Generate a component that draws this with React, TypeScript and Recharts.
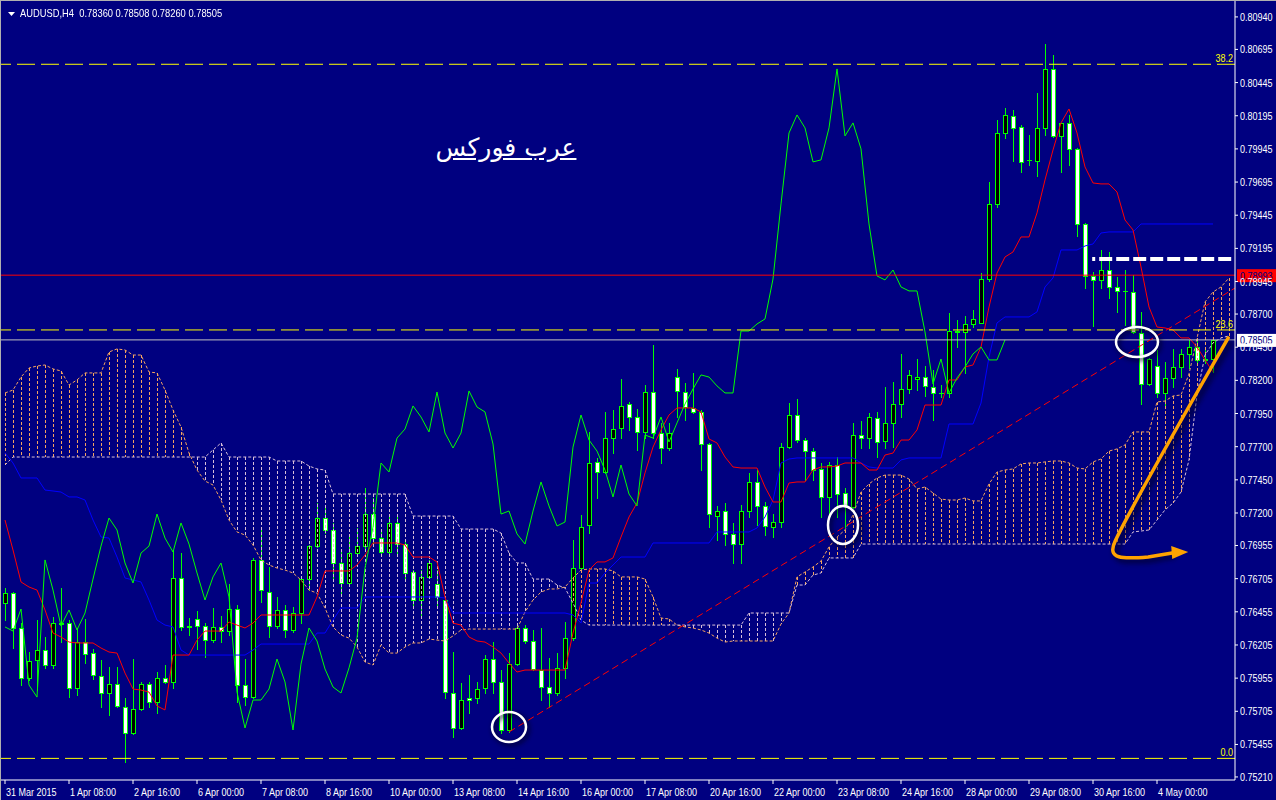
import React from "react";
import { ComposedChart, Bar, Line, XAxis, YAxis, ReferenceLine, ReferenceDot } from "recharts";

// AUDUSD H4 candles, bar 0 = 31 Mar 2015 00:00
const OPEN = [
  0.76521, 0.76596, 0.76333, 0.75956, 0.76092, 0.76167, 0.76054, 0.76362, 0.7637, 0.75881,
  0.76227, 0.76144, 0.75971, 0.75843, 0.75911, 0.75737, 0.75541, 0.75722, 0.75911, 0.75775,
  0.75956, 0.75926, 0.7671, 0.76348, 0.76401, 0.76348, 0.76242, 0.76341, 0.7631, 0.76476,
  0.75903, 0.75812, 0.76846, 0.76604, 0.76348, 0.76469, 0.76318, 0.76446, 0.76702, 0.76951,
  0.77162, 0.77072, 0.76823, 0.76672, 0.76898, 0.76951, 0.77192, 0.77011, 0.76906, 0.77125,
  0.76966, 0.76755, 0.76544, 0.76718, 0.76665, 0.76544, 0.75843, 0.75579, 0.75805, 0.75805,
  0.75881, 0.76099, 0.75926, 0.75564, 0.76061, 0.76333, 0.76235, 0.76016, 0.75888, 0.75843,
  0.76032, 0.76257, 0.76785, 0.7711, 0.77585, 0.77509, 0.77765, 0.77841, 0.78022, 0.77924,
  0.77811, 0.78112, 0.77803, 0.7769, 0.78225, 0.78112, 0.77992, 0.77962, 0.7772, 0.77177,
  0.77215, 0.77042, 0.76966, 0.77215, 0.77434, 0.77253, 0.77094, 0.77132, 0.77697, 0.77939,
  0.7775, 0.77667, 0.77532, 0.77321, 0.77562, 0.77351, 0.77245, 0.77788, 0.77765, 0.77916,
  0.77743, 0.77879, 0.78022, 0.78135, 0.7821, 0.78225, 0.7815, 0.78105, 0.78105, 0.78565,
  0.78565, 0.78625, 0.78633, 0.78964, 0.7953, 0.80065, 0.80193, 0.8011, 0.79862, 0.79854,
  0.80103, 0.80548, 0.80043, 0.80141, 0.79945, 0.79379, 0.78987, 0.78957, 0.79032, 0.78904,
  0.78874, 0.78866, 0.78557, 0.78173, 0.78308, 0.78105, 0.78218, 0.78301, 0.78399, 0.78452,
  0.78361, 0.7836,
];
const HIGH = [
  0.76635, 0.76604, 0.7637, 0.76152, 0.76393, 0.76265, 0.76416, 0.76635, 0.76393, 0.76333,
  0.76401, 0.76175, 0.76092, 0.76039, 0.76039, 0.75805, 0.76099, 0.75926, 0.75926, 0.76001,
  0.76054, 0.76921, 0.76898, 0.76408, 0.76461, 0.7637, 0.76484, 0.76423, 0.76665, 0.76506,
  0.76099, 0.76861, 0.77094, 0.76793, 0.76567, 0.76506, 0.76491, 0.76718, 0.76959, 0.77275,
  0.77245, 0.77125, 0.76906, 0.77034, 0.77087, 0.77388, 0.77313, 0.77057, 0.7717, 0.77185,
  0.76996, 0.7677, 0.7677, 0.76846, 0.7677, 0.76567, 0.76152, 0.75918, 0.75978, 0.75926,
  0.7613, 0.76227, 0.76016, 0.76144, 0.7637, 0.76355, 0.76318, 0.76333, 0.76107, 0.76144,
  0.76378, 0.76996, 0.77185, 0.77811, 0.77615, 0.77962, 0.77977, 0.7821, 0.78037, 0.77984,
  0.78165, 0.78467, 0.77879, 0.77879, 0.78286, 0.7818, 0.78256, 0.77977, 0.77728, 0.77253,
  0.77275, 0.77125, 0.7726, 0.77502, 0.77524, 0.77283, 0.77192, 0.77728, 0.78029, 0.78059,
  0.77765, 0.7769, 0.77577, 0.77585, 0.77622, 0.77388, 0.77879, 0.77894, 0.77954, 0.77962,
  0.7815, 0.78188, 0.78399, 0.78278, 0.78361, 0.78308, 0.78278, 0.78165, 0.78708, 0.78655,
  0.78685, 0.78731, 0.79009, 0.79696, 0.80163, 0.80254, 0.80239, 0.80126, 0.8005, 0.80367,
  0.80736, 0.80653, 0.80141, 0.80201, 0.79952, 0.79387, 0.79017, 0.79183, 0.79168, 0.78979,
  0.79032, 0.78994, 0.78716, 0.78369, 0.78429, 0.78339, 0.78437, 0.78437, 0.78504, 0.78504,
  0.78452, 0.78508,
];
const LOW = [
  0.76393, 0.76182, 0.75903, 0.75941, 0.75865, 0.76032, 0.76032, 0.76227, 0.75812, 0.75827,
  0.76069, 0.75948, 0.75737, 0.75677, 0.75737, 0.75323, 0.75534, 0.75715, 0.75737, 0.75692,
  0.75918, 0.75881, 0.76318, 0.7628, 0.76175, 0.76114, 0.76227, 0.76227, 0.7628, 0.75775,
  0.75752, 0.75805, 0.76529, 0.76265, 0.76333, 0.76265, 0.76303, 0.7637, 0.76619, 0.76944,
  0.77049, 0.76695, 0.76596, 0.76657, 0.76898, 0.76936, 0.76974, 0.76883, 0.76898, 0.76898,
  0.76695, 0.76491, 0.76431, 0.7671, 0.76506, 0.75805, 0.75511, 0.75571, 0.75692, 0.75767,
  0.75843, 0.75843, 0.75541, 0.75549, 0.76054, 0.7622, 0.76016, 0.7579, 0.75737, 0.75827,
  0.75956, 0.76242, 0.7677, 0.77049, 0.77313, 0.77502, 0.77652, 0.77765, 0.77826, 0.77675,
  0.77765, 0.77765, 0.77577, 0.77675, 0.77924, 0.77901, 0.77954, 0.77524, 0.77094, 0.76996,
  0.76959, 0.76823, 0.76823, 0.7717, 0.7711, 0.77034, 0.77019, 0.77094, 0.7769, 0.77735,
  0.77449, 0.77449, 0.7717, 0.7717, 0.7717, 0.77094, 0.77238, 0.7769, 0.7769, 0.77622,
  0.7769, 0.77697, 0.77924, 0.78105, 0.78127, 0.78082, 0.77901, 0.78075, 0.78075, 0.78452,
  0.78256, 0.78602, 0.78633, 0.78949, 0.79507, 0.80027, 0.79854, 0.79771, 0.79824, 0.79741,
  0.8005, 0.80035, 0.79771, 0.79824, 0.79289, 0.78896, 0.7861, 0.78896, 0.78821, 0.78716,
  0.78618, 0.78557, 0.78022, 0.78165, 0.78075, 0.78007, 0.7815, 0.78225, 0.78293, 0.78316,
  0.78331, 0.7826,
];
const CLOSE = [
  0.76596, 0.76333, 0.75956, 0.76084, 0.76167, 0.76054, 0.7637, 0.7637, 0.75881, 0.76227,
  0.76137, 0.75978, 0.75843, 0.75911, 0.75745, 0.75541, 0.75722, 0.75911, 0.75775, 0.75956,
  0.75926, 0.7671, 0.76341, 0.76341, 0.76348, 0.76242, 0.76341, 0.7631, 0.76476, 0.75903,
  0.75812, 0.76846, 0.76619, 0.76348, 0.76469, 0.76318, 0.76446, 0.76702, 0.76951, 0.77162,
  0.77072, 0.76823, 0.76672, 0.76898, 0.76951, 0.77192, 0.77011, 0.76906, 0.77125, 0.76966,
  0.76748, 0.76544, 0.76718, 0.76823, 0.76567, 0.7585, 0.75579, 0.7579, 0.7579, 0.75873,
  0.76099, 0.75926, 0.75564, 0.76061, 0.76333, 0.76235, 0.76024, 0.75888, 0.75843, 0.76032,
  0.76257, 0.76785, 0.77094, 0.77577, 0.77509, 0.77765, 0.77833, 0.78007, 0.77924, 0.77811,
  0.78112, 0.77803, 0.7769, 0.77803, 0.7812, 0.77999, 0.77962, 0.7772, 0.77192, 0.77215,
  0.77042, 0.76966, 0.77215, 0.77434, 0.77253, 0.77102, 0.77132, 0.77697, 0.77939, 0.7775,
  0.77667, 0.77524, 0.77321, 0.77562, 0.77343, 0.77253, 0.77788, 0.77765, 0.77924, 0.77735,
  0.77879, 0.78022, 0.78135, 0.78241, 0.78225, 0.78158, 0.78105, 0.78105, 0.78572, 0.78572,
  0.78625, 0.78663, 0.78964, 0.7953, 0.80065, 0.80201, 0.80103, 0.79847, 0.79862, 0.80103,
  0.80548, 0.80043, 0.80141, 0.79945, 0.79379, 0.78987, 0.78957, 0.79032, 0.78904, 0.78874,
  0.78874, 0.78565, 0.78173, 0.78361, 0.78105, 0.78218, 0.78301, 0.78399, 0.78452, 0.78354,
  0.78354, 0.78505,
];

// Ichimoku lines
const TENKAN = [
  0.77147, 0.76921, 0.7668, 0.76642, 0.76619, 0.76469, 0.76295, 0.76265, 0.76227, 0.7622,
  0.7622, 0.7622, 0.76182, 0.76152, 0.76144, 0.75993, 0.75873, 0.75865, 0.7585, 0.75745,
  0.75715, 0.76129, 0.76129, 0.76129, 0.76242, 0.7631, 0.7631, 0.7631, 0.76378, 0.76355,
  0.76333, 0.7637, 0.76431, 0.76431, 0.76431, 0.76431, 0.76431, 0.76431, 0.76431, 0.76567,
  0.76763, 0.76763, 0.76763, 0.76763, 0.76808, 0.76883, 0.76974, 0.76974, 0.76974, 0.76974,
  0.76959, 0.76868, 0.76868, 0.76868, 0.76831, 0.76567, 0.7637, 0.76355, 0.76265, 0.76235,
  0.76227, 0.7619, 0.76144, 0.76069, 0.76001, 0.76016, 0.76016, 0.76016, 0.76016, 0.76016,
  0.76016, 0.76295, 0.76521, 0.7677, 0.76831, 0.76831, 0.76861, 0.77019, 0.7717, 0.77275,
  0.77502, 0.77697, 0.77826, 0.77939, 0.77992, 0.77992, 0.77992, 0.77962, 0.77758, 0.77728,
  0.77622, 0.77547, 0.77539, 0.77539, 0.77539, 0.77396, 0.77283, 0.77283, 0.77426, 0.77434,
  0.77434, 0.77524, 0.77547, 0.77547, 0.77554, 0.77577, 0.77577, 0.77577, 0.77524, 0.77524,
  0.77637, 0.77652, 0.7775, 0.7775, 0.77826, 0.78014, 0.78014, 0.78014, 0.78203, 0.78203,
  0.78301, 0.78316, 0.78452, 0.78753, 0.79009, 0.7913, 0.79168, 0.79281, 0.79281, 0.79462,
  0.79711, 0.79937, 0.80141, 0.80246, 0.80065, 0.79809, 0.79688, 0.79681, 0.79681, 0.7962,
  0.79409, 0.79334, 0.79055, 0.78753, 0.78602, 0.78595, 0.7858, 0.7852, 0.7852, 0.78452,
  0.78354, 0.78263,
];
const KIJUN = [
  0.77652, 0.77577, 0.77464, 0.77464, 0.77464, 0.77373, 0.77366, 0.77358, 0.77321, 0.77321,
  0.77298, 0.77147, 0.77019, 0.77011, 0.76868, 0.7671, 0.76695, 0.7668, 0.76544, 0.76393,
  0.76355, 0.76341, 0.76167, 0.76129, 0.76129, 0.76129, 0.76129, 0.76129, 0.76129, 0.76129,
  0.76129, 0.76167, 0.76212, 0.76212, 0.76212, 0.76212, 0.76212, 0.76212, 0.76212, 0.76295,
  0.76295, 0.76393, 0.76484, 0.76484, 0.76484, 0.76567, 0.76567, 0.76567, 0.76567, 0.76567,
  0.76567, 0.76567, 0.76567, 0.76567, 0.76567, 0.76559, 0.76446, 0.76446, 0.76446, 0.76446,
  0.76446, 0.76446, 0.76446, 0.76446, 0.76446, 0.76446, 0.76446, 0.76446, 0.76446, 0.76446,
  0.76446, 0.76431, 0.7637, 0.76672, 0.76672, 0.76748, 0.76808, 0.76868, 0.76868, 0.76868,
  0.76868, 0.76974, 0.76974, 0.76974, 0.76974, 0.76974, 0.76974, 0.76974, 0.76974, 0.77057,
  0.77057, 0.77057, 0.77057, 0.77057, 0.77087, 0.7717, 0.77298, 0.77577, 0.77607, 0.77615,
  0.77615, 0.77615, 0.77615, 0.77615, 0.77615, 0.77615, 0.77615, 0.77577, 0.77547, 0.77539,
  0.77539, 0.77539, 0.776, 0.77615, 0.77615, 0.77615, 0.77615, 0.77615, 0.77871, 0.77871,
  0.77871, 0.77871, 0.78029, 0.78376, 0.78633, 0.78678, 0.78678, 0.78678, 0.78678, 0.78716,
  0.78904, 0.78972, 0.79183, 0.79183, 0.79183, 0.79213, 0.79228, 0.79311, 0.79319, 0.79319,
  0.79319, 0.79319, 0.79379, 0.79379, 0.79379, 0.79379, 0.79379, 0.79379, 0.79379, 0.79379,
  0.79379, 0.79379,
];
const SPAN_A = [
  0.78105, 0.78127, 0.78225, 0.78293, 0.78308, 0.78316, 0.78286, 0.78271, 0.78165, 0.78203,
  0.78256, 0.78256, 0.78256, 0.78414, 0.78437, 0.78429, 0.78391, 0.78391, 0.78263, 0.78256,
  0.78127, 0.77977, 0.77848, 0.77652, 0.77524, 0.77441, 0.77411, 0.77298, 0.77147, 0.77057,
  0.77034, 0.76959, 0.76846, 0.76808, 0.76785, 0.7677, 0.76748, 0.76695, 0.76619, 0.76596,
  0.76484, 0.76341, 0.7628, 0.76257, 0.7619, 0.76076, 0.76054, 0.76205, 0.76144, 0.76144,
  0.7619, 0.7622, 0.7622, 0.7625, 0.76242, 0.76235, 0.76273, 0.76318, 0.76325, 0.76325,
  0.76325, 0.76325, 0.76325, 0.76325, 0.76325, 0.76454, 0.76544, 0.76604, 0.76627, 0.76627,
  0.76642, 0.7671, 0.7677, 0.76778, 0.76778, 0.76778, 0.76763, 0.76718, 0.76718, 0.76718,
  0.76702, 0.76567, 0.76408, 0.76401, 0.76355, 0.76341, 0.76333, 0.76318, 0.76295, 0.76257,
  0.76227, 0.76235, 0.76235, 0.76235, 0.76235, 0.76235, 0.76235, 0.76363, 0.76446, 0.76718,
  0.76755, 0.76793, 0.76838, 0.76944, 0.77019, 0.77072, 0.77185, 0.77358, 0.77419, 0.77464,
  0.77486, 0.77486, 0.77486, 0.77456, 0.77381, 0.77396, 0.77351, 0.77305, 0.77298, 0.77298,
  0.77313, 0.77291, 0.77291, 0.77419, 0.77509, 0.77524, 0.77532, 0.7757, 0.77577, 0.77577,
  0.77585, 0.77592, 0.77592, 0.77577, 0.77539, 0.77532, 0.77585, 0.77607, 0.77667, 0.77683,
  0.77713, 0.77811, 0.77811, 0.77811, 0.78037, 0.78044, 0.78082, 0.7809, 0.78248, 0.78517,
  0.78791, 0.78866, 0.78904, 0.78972,
];
const SPAN_B = [
  0.77562, 0.77622, 0.77622, 0.77622, 0.77622, 0.77622, 0.77622, 0.77622, 0.77622, 0.77622,
  0.77622, 0.77622, 0.77622, 0.77622, 0.77622, 0.77622, 0.77622, 0.77622, 0.77622, 0.77622,
  0.77622, 0.77622, 0.77622, 0.77622, 0.77622, 0.77622, 0.77675, 0.77728, 0.77622, 0.77622,
  0.77622, 0.77622, 0.77622, 0.77622, 0.77592, 0.77592, 0.77592, 0.77592, 0.77554, 0.77532,
  0.77524, 0.77343, 0.77343, 0.77343, 0.77343, 0.77343, 0.77343, 0.77343, 0.77343, 0.77343,
  0.77343, 0.77177, 0.77177, 0.77177, 0.77177, 0.77177, 0.77177, 0.77079, 0.77079, 0.77079,
  0.77079, 0.77079, 0.77049, 0.76898, 0.76823, 0.76823, 0.76702, 0.76702, 0.76702, 0.76657,
  0.76635, 0.76521, 0.76393, 0.76355, 0.76355, 0.76355, 0.76355, 0.76355, 0.76355, 0.76355,
  0.76355, 0.76355, 0.76355, 0.76355, 0.76355, 0.76355, 0.76355, 0.76355, 0.76355, 0.76355,
  0.76355, 0.76355, 0.76355, 0.76446, 0.76446, 0.76446, 0.76446, 0.76446, 0.76446, 0.76657,
  0.76657, 0.76732, 0.76748, 0.76861, 0.76861, 0.76861, 0.76861, 0.76966, 0.76966, 0.76966,
  0.76966, 0.76966, 0.76966, 0.76966, 0.76966, 0.76966, 0.76966, 0.76966, 0.76966, 0.76966,
  0.76966, 0.76966, 0.76966, 0.76966, 0.76966, 0.76966, 0.76966, 0.76966, 0.76966, 0.76966,
  0.76966, 0.76966, 0.76966, 0.76966, 0.76966, 0.76966, 0.76966, 0.76966, 0.76966, 0.76966,
  0.76966, 0.77057, 0.77064, 0.77072, 0.77147, 0.77223, 0.77275, 0.77358, 0.776, 0.7809,
  0.78391, 0.78482, 0.7852, 0.78535,
];

const X_TICKS = [0, 8, 16, 24, 32, 40, 48, 56, 64, 72, 80, 88, 96, 104, 112, 120, 128, 136, 144];
const X_LABELS = [
  "31 Mar 2015", "1 Apr 08:00", "2 Apr 16:00", "6 Apr 00:00", "7 Apr 08:00", "8 Apr 16:00",
  "10 Apr 00:00", "13 Apr 08:00", "14 Apr 16:00", "16 Apr 00:00", "17 Apr 08:00", "20 Apr 16:00",
  "22 Apr 00:00", "23 Apr 08:00", "24 Apr 16:00", "28 Apr 00:00", "29 Apr 08:00", "30 Apr 16:00",
  "4 May 00:00",
];
const Y_TICKS = [
  0.8094, 0.80695, 0.80445, 0.80195, 0.79945, 0.79695, 0.79445, 0.79195, 0.78945, 0.787,
  0.7845, 0.782, 0.7795, 0.777, 0.7745, 0.772, 0.76955, 0.76705, 0.76455, 0.76205,
  0.75955, 0.75705, 0.75455, 0.7521,
];

const RED_LEVEL = 0.78993;
const BID = 0.78505;
const FIB_LEVELS = [
  { label: "38.2", price: 0.80583 },
  { label: "23.6", price: 0.7858 },
  { label: "0.0", price: 0.7535 },
];
const TREND = [{ x: 63, y: 0.75549 }, { x: 153.75, y: 0.78896 }];
const WHITE_LEVEL = [{ x: 135.9, y: 0.79115 }, { x: 153.75, y: 0.79115 }];
const CIRCLES = [
  { bar: 63, price: 0.75586 },
  { bar: 104.75, price: 0.7711 },
  { bar: 141.5, price: 0.78489 },
];
const ARROW_START = { bar: 152.9, price: 0.7852 };

const BG = "#000080";
const LIME = "#00ff00";
const SANDY = "#f4a460";
const THISTLE = "#d8bfd8";
const ORANGE = "#ffa200";
const FONT = "'Liberation Sans', Arial, sans-serif";
const SQUEEZE = 0.82; // MT4's Tahoma is much narrower than Arial

const data = SPAN_A.map((a, i) => ({
  i,
  o: OPEN[i] ?? null,
  h: HIGH[i] ?? null,
  l: LOW[i] ?? null,
  c: CLOSE[i] ?? null,
  t: TENKAN[i] ?? null,
  k: KIJUN[i] ?? null,
  a,
  b: SPAN_B[i],
  ch: i + 26 < CLOSE.length ? CLOSE[i + 26] : null,
}));

function Candle(props: any) {
  const { x, y, width, height, payload } = props;
  const { o, h, l, c } = payload;
  if (o == null) return null;
  const cx = Math.round(x + width / 2);
  const k = h > l ? height / (h - l) : 0;
  const py = (v: number) => y + (h - v) * k;
  const top = Math.round(py(Math.max(o, c)));
  const bot = Math.round(py(Math.min(o, c)));
  return (
    <g>
      <line x1={cx + 0.5} x2={cx + 0.5} y1={Math.round(py(h))} y2={Math.round(py(l)) + 1} stroke={LIME} />
      {bot - top < 1 ? (
        <line x1={cx - 2} x2={cx + 3} y1={top + 0.5} y2={top + 0.5} stroke={LIME} />
      ) : (
        <rect x={cx - 1.5} y={top + 0.5} width={4} height={bot - top} fill={c > o ? "#000000" : "#ffffff"} stroke={LIME} />
      )}
    </g>
  );
}

function Hatch(props: any) {
  const { x, y, width, height, payload } = props;
  if (payload.a == null) return null;
  const cx = Math.round(x + width / 2);
  return (
    <line
      x1={cx + 0.5}
      x2={cx + 0.5}
      y1={Math.round(y)}
      y2={Math.round(y + height)}
      stroke={payload.a >= payload.b ? SANDY : THISTLE}
      strokeDasharray="3 2"
    />
  );
}

const Label = ({ x, y, fill, anchor = "start", children }: any) => (
  <text
    transform={`translate(${x},${y}) scale(${SQUEEZE},1)`}
    fill={fill}
    fontSize={11}
    fontFamily={FONT}
    textAnchor={anchor}
  >
    {children}
  </text>
);

const XTick = (props: any) => {
  const { x, y, payload } = props;
  return (
    <Label x={x + 1} y={y + 12} fill="#ffffff">
      {X_LABELS[X_TICKS.indexOf(payload.value)]}
    </Label>
  );
};

const YTick = (props: any) => {
  const { x, y, payload } = props;
  return (
    <Label x={x} y={y + 4} fill="#ffffff">
      {Number(payload.value).toFixed(5)}
    </Label>
  );
};

const PriceTag = (props: any) => {
  const { viewBox, text, bg, fg } = props;
  const x = viewBox.x + viewBox.width + 2;
  const y = viewBox.y;
  return (
    <g>
      <rect x={x} y={y - 6} width={40} height={13} fill={bg} />
      <Label x={x + 3} y={y + 4.5} fill={fg}>
        {text}
      </Label>
    </g>
  );
};

const FibTag = (props: any) => {
  const { viewBox, text } = props;
  return (
    <Label x={viewBox.x + viewBox.width - 2} y={viewBox.y - 2} fill="#ffff00" anchor="end">
      {text}
    </Label>
  );
};

const Ring = (rx: number, ry: number) => (props: any) => {
  const { cx, cy } = props;
  return (
    <g>
      <defs>
        <filter id="soft" x="-50%" y="-50%" width="200%" height="200%">
          <feGaussianBlur stdDeviation="2" />
        </filter>
      </defs>
      <ellipse cx={cx + 2} cy={cy + 2} rx={rx} ry={ry} fill="none" stroke="#000020" strokeWidth={5} opacity={0.55} filter="url(#soft)" />
      <ellipse cx={cx} cy={cy} rx={rx} ry={ry} fill="none" stroke="#ffffff" strokeWidth={2.5} />
    </g>
  );
};

const Arrow = (props: any) => {
  const { cx, cy } = props;
  const d = `M ${cx} ${cy} C ${cx - 40} ${cy + 70} ${cx - 95} ${cy + 165} ${cx - 113} ${cy + 203} C ${cx - 122} ${cy + 222} ${cx - 105} ${cy + 221} ${cx - 80} ${cy + 219} L ${cx - 56} ${cy + 215}`;
  const head = `${cx - 57},${cy + 208} ${cx - 40},${cy + 214} ${cx - 56},${cy + 221}`;
  return (
    <g>
      <path d={d} transform="translate(3,3)" stroke="#000020" strokeWidth={7} fill="none" opacity={0.5} filter="url(#soft)" />
      <path d={d} stroke={ORANGE} strokeWidth={3.5} fill="none" strokeLinecap="round" />
      <polygon points={head} fill={ORANGE} />
    </g>
  );
};

export default function App() {
  return (
    <div style={{ position: "absolute", left: 0, top: 0, width: 1276, height: 800, background: BG, overflow: "hidden" }}>
      <ComposedChart width={1276} height={800} data={data} margin={{ top: 1, right: 0, bottom: 0, left: 1 }}>
        <XAxis
          type="number"
          dataKey="i"
          domain={[-0.5, 153.75]}
          allowDataOverflow
          ticks={X_TICKS}
          interval={0}
          height={20}
          tickSize={4}
          tickMargin={0}
          tick={<XTick />}
          tickLine={{ stroke: "#ffffff" }}
          axisLine={{ stroke: "#ffffff" }}
        />
        <XAxis xAxisId="h" type="number" dataKey="i" domain={[-0.5, 153.75]} allowDataOverflow hide />
        <YAxis
          orientation="right"
          width={41}
          domain={[0.75187, 0.8106]}
          allowDataOverflow
          ticks={Y_TICKS}
          interval={0}
          tickSize={3}
          tickMargin={2}
          tick={<YTick />}
          tickLine={{ stroke: "#ffffff" }}
          axisLine={{ stroke: "#ffffff" }}
        />

        <Bar dataKey={(d: any) => (d.o == null ? null : [d.l, d.h])} barSize={8} shape={<Candle />} isAnimationActive={false} />
        <Bar
          xAxisId="h"
          dataKey={(d: any) => [Math.min(d.a, d.b), Math.max(d.a, d.b)]}
          barSize={8}
          shape={<Hatch />}
          isAnimationActive={false}
        />

        <Line dataKey="a" stroke={SANDY} strokeDasharray="3 2" dot={false} isAnimationActive={false} />
        <Line dataKey="b" stroke={THISTLE} strokeDasharray="3 2" dot={false} isAnimationActive={false} />
        <Line dataKey="k" stroke="#0000ff" dot={false} isAnimationActive={false} />
        <Line dataKey="t" stroke="#ff0000" dot={false} isAnimationActive={false} />
        <Line dataKey="ch" stroke={LIME} dot={false} isAnimationActive={false} />

        {FIB_LEVELS.map((f) => (
          <ReferenceLine
            key={f.label}
            y={f.price}
            stroke="#ffff00"
            strokeDasharray="18 6"
            label={<FibTag text={f.label} />}
          />
        ))}
        <ReferenceLine y={BID} stroke="#c0c0c0" label={<PriceTag text={BID.toFixed(5)} bg="#ffffff" fg={BG} />} />
        <ReferenceLine y={RED_LEVEL} stroke="#ff0000" label={<PriceTag text={RED_LEVEL.toFixed(5)} bg="#ff0000" fg={BG} />} />
        <ReferenceLine segment={TREND} stroke="#ff0000" strokeDasharray="7 4" ifOverflow="visible" />
        <ReferenceLine segment={WHITE_LEVEL} stroke="#ffffff" strokeWidth={4} strokeDasharray="3 4 13 4 13 4 13 4 13 4 13 4 13 4 13 4 13 4" ifOverflow="visible" />

        <ReferenceDot x={CIRCLES[0].bar} y={CIRCLES[0].price} r={16} ifOverflow="visible" shape={Ring(17, 15)} />
        <ReferenceDot x={CIRCLES[1].bar} y={CIRCLES[1].price} r={16} ifOverflow="visible" shape={Ring(15, 19)} />
        <ReferenceDot x={CIRCLES[2].bar} y={CIRCLES[2].price} r={16} ifOverflow="visible" shape={Ring(21, 15)} />
        <ReferenceDot x={ARROW_START.bar} y={ARROW_START.price} r={4} ifOverflow="visible" shape={Arrow} />
      </ComposedChart>

      <div style={{ position: "absolute", left: 0, top: 0, width: 1276, height: 1, background: "#b0b0b0" }} />
      <div style={{ position: "absolute", left: 0, top: 0, width: 1, height: 800, background: "#b0b0b0" }} />
      <svg style={{ position: "absolute", left: 8, top: 12 }} width={8} height={5}>
        <polygon points="0,0 7,0 3.5,4" fill="#ffffff" />
      </svg>
      <div
        style={{
          position: "absolute",
          left: 20,
          top: 7,
          color: "#ffffff",
          fontFamily: FONT,
          fontSize: 11,
          whiteSpace: "pre",
          lineHeight: "13px",
          transform: "scaleX(0.85)",
          transformOrigin: "left top",
        }}
      >
        {"AUDUSD,H4  0.78360 0.78508 0.78260 0.78505"}
      </div>
      <div
        dir="rtl"
        style={{
          position: "absolute",
          left: 431,
          top: 133,
          width: 150,
          textAlign: "center",
          color: "#ffffff",
          fontFamily: "'DejaVu Sans', sans-serif",
          fontSize: 25,
          lineHeight: "30px",
          textDecoration: "underline",
        }}
      >
        عرب فوركس
      </div>
    </div>
  );
}
